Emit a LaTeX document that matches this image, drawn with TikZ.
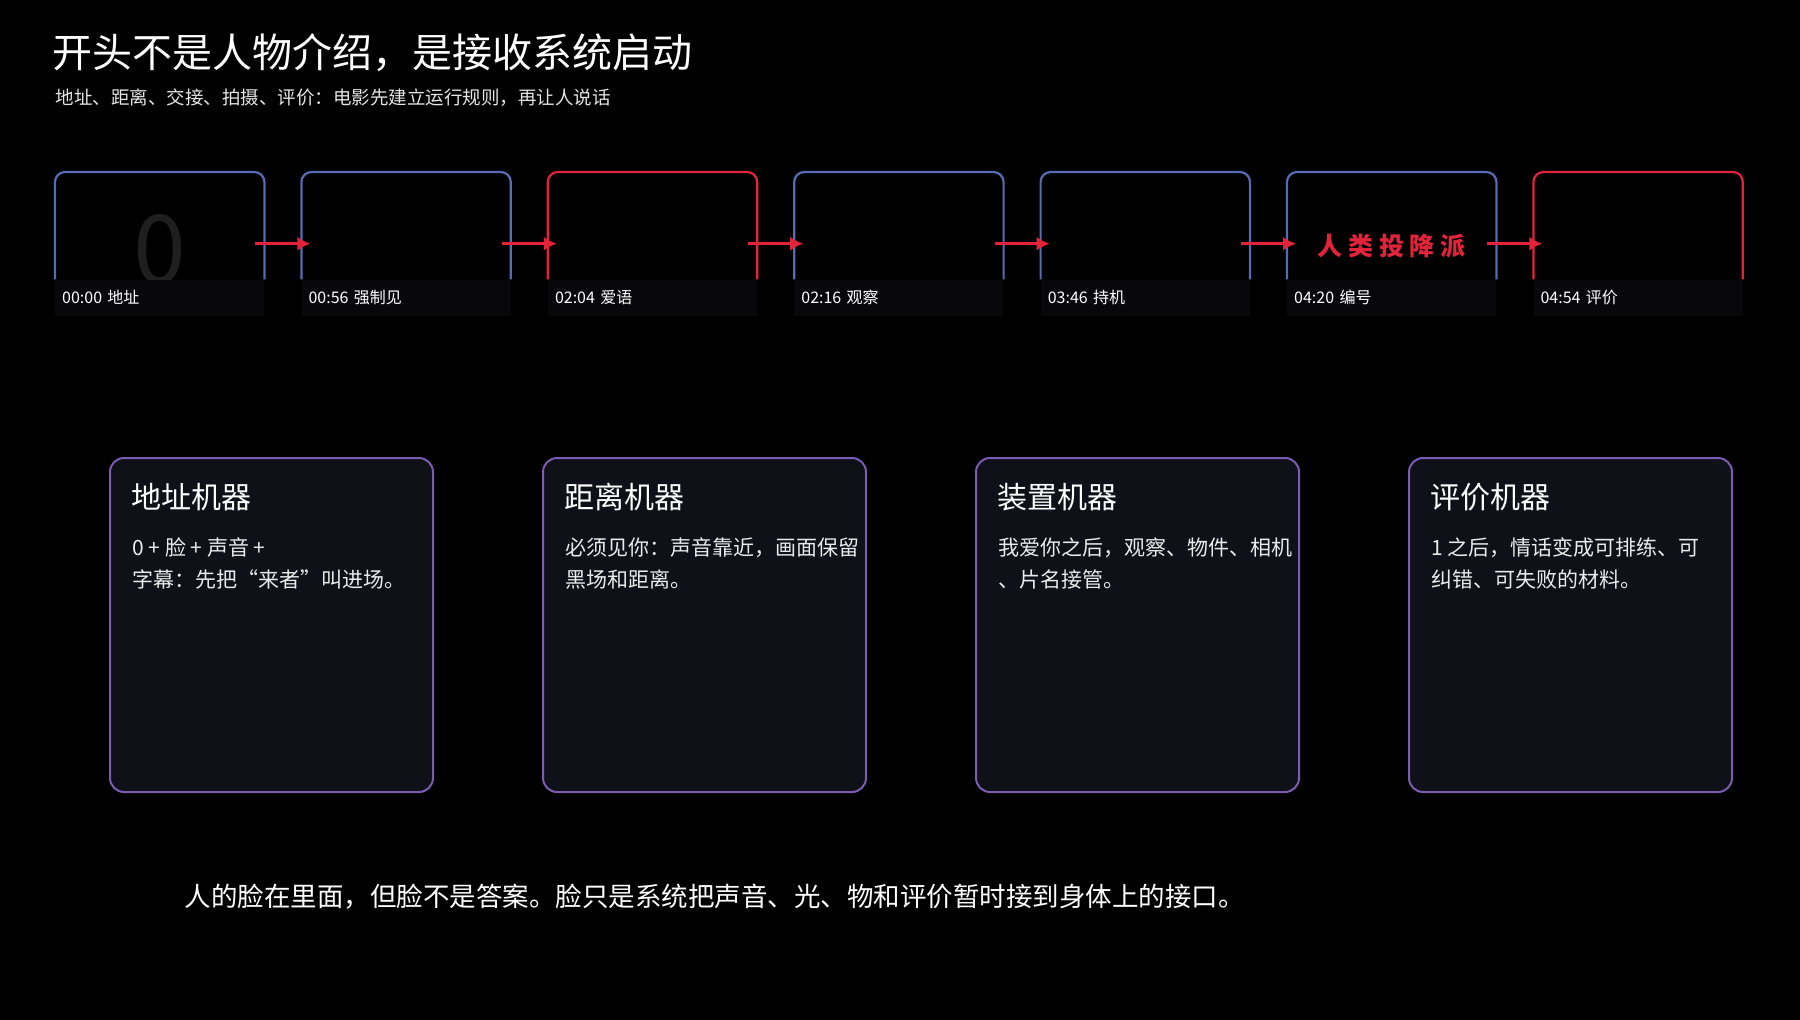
\documentclass[tikz,border=0pt]{standalone}
\usepackage{fontspec}
\setmainfont{Noto Sans CJK SC}
\usetikzlibrary{positioning, calc, arrows.meta}
\definecolor{fblue}{RGB}{88,108,180}
\definecolor{fred}{RGB}{226,36,58}
\definecolor{cpurple}{RGB}{122,92,176}
\definecolor{cfill}{RGB}{15,16,24}
\definecolor{strip}{RGB}{8,8,10}
\tikzstyle{Thumb} = [
inner sep=0pt,
minimum width=209pt,
minimum height=107pt,
fill=black]
\tikzstyle{Cap} = [
inner sep=0pt,
minimum width=209pt,
minimum height=36pt,
fill=strip,
text=white,
font=\fontsize{16}{16}\selectfont,
text width=195pt]
\tikzstyle{FrameBlue} = [line width=2.2pt, fblue, rounded corners=10pt]
\tikzstyle{FrameRed} = [line width=2.2pt, fred, rounded corners=10pt]
\tikzstyle{Step} = [
line width=3pt,
fred,
-{Latex[length=13pt,width=14pt]},
shorten <=-9pt, shorten >=-9pt,
transform canvas={yshift=-18pt}]
\tikzstyle{Card} = [
draw=cpurple, line width=2pt, fill=cfill,
rounded corners=14pt,
minimum width=323pt, minimum height=334pt,
inner sep=0pt]
\tikzstyle{CardHead} = [anchor=base west, text=white,
font=\fontsize{30}{30}\selectfont]
\tikzstyle{CardBody} = [anchor=base west, text=white!92!black,
font=\fontsize{21}{32}\selectfont, align=left]

\begin{document}
\begin{tikzpicture}[x=1pt, y=-1pt]
    \useasboundingbox[fill=black] (0,0) rectangle (1800,1020);

    % title
    \node [anchor=base west, text=white, font=\fontsize{40}{40}\selectfont]
        (title) at (49,67) {开头不是人物介绍，是接收系统启动};
    \node [anchor=base west, text=white!90!black, font=\fontsize{18.5}{18.5}\selectfont]
        (sub) at (52,104) {地址、距离、交接、拍摄、评价：电影先建立运行规则，再让人说话};

    % thumbnails
    \node [Thumb, anchor=north west] (t1) at (55,172) {};
    \node [Thumb, right=37pt of t1] (t2) {};
    \node [Thumb, right=37pt of t2] (t3) {};
    \node [Thumb, right=37pt of t3] (t4) {};
    \node [Thumb, right=37pt of t4] (t5) {};
    \node [Thumb, right=37pt of t5] (t6) {};
    \node [Thumb, right=37pt of t6] (t7) {};
    \node [text=white!12!black, font=\fontsize{95}{95}\selectfont] at ($(t1)+(0,24)$) (t1txt) {0};
    \node [text=fred, font=\bfseries\fontsize{25}{25}\selectfont] at ($(t6)+(0,20)$) (t6txt) {人 类 投 降 派};

    \node [Cap, below=0pt of t1] (c1) {00:00 地址};
    \node [Cap, below=0pt of t2] (c2) {00:56 强制见};
    \node [Cap, below=0pt of t3] (c3) {02:04 爱语};
    \node [Cap, below=0pt of t4] (c4) {02:16 观察};
    \node [Cap, below=0pt of t5] (c5) {03:46 持机};
    \node [Cap, below=0pt of t6] (c6) {04:20 编号};
    \node [Cap, below=0pt of t7] (c7) {04:54 评价};

    \draw[FrameBlue] (t1.south west) |- (t1.north) -| (t1.south east);
    \draw[FrameBlue] (t2.south west) |- (t2.north) -| (t2.south east);
    \draw[FrameRed] (t3.south west) |- (t3.north) -| (t3.south east);
    \draw[FrameBlue] (t4.south west) |- (t4.north) -| (t4.south east);
    \draw[FrameBlue] (t5.south west) |- (t5.north) -| (t5.south east);
    \draw[FrameBlue] (t6.south west) |- (t6.north) -| (t6.south east);
    \draw[FrameRed] (t7.south west) |- (t7.north) -| (t7.south east);

    \draw[Step] (t1.east) -- (t2.west);
    \draw[Step] (t2.east) -- (t3.west);
    \draw[Step] (t3.east) -- (t4.west);
    \draw[Step] (t4.east) -- (t5.west);
    \draw[Step] (t5.east) -- (t6.west);
    \draw[Step] (t6.east) -- (t7.west);

    % cards
    \node [Card, anchor=north west] (k1) at (109,457) {};
    \node [Card, right=108pt of k1] (k2) {};
    \node [Card, right=108pt of k2] (k3) {};
    \node [Card, right=108pt of k3] (k4) {};

    \node [CardHead] at ($(k1.north west)+(19,51)$) (h1) {地址机器};
    \node [CardHead] at ($(k2.north west)+(19,51)$) (h2) {距离机器};
    \node [CardHead] at ($(k3.north west)+(19,51)$) (h3) {装置机器};
    \node [CardHead] at ($(k4.north west)+(19,51)$) (h4) {评价机器};

    \node [CardBody] at ($(k1.north west)+(20,130)$) (b1) {0 + 脸 + 声音 +\\字幕：先把“来者”叫进场。};
    \node [CardBody] at ($(k2.north west)+(20,130)$) (b2) {必须见你：声音靠近，画面保留\\黑场和距离。};
    \node [CardBody] at ($(k3.north west)+(20,130)$) (b3) {我爱你之后，观察、物件、相机\\、片名接管。};
    \node [CardBody] at ($(k4.north west)+(20,130)$) (b4) {1 之后，情话变成可排练、可\\纠错、可失败的材料。};

    % closing line
    \node [anchor=base west, text=white, font=\fontsize{26.5}{26.5}\selectfont]
        (end) at (181,906) {人的脸在里面，但脸不是答案。脸只是系统把声音、光、物和评价暂时接到身体上的接口。};
\end{tikzpicture}
\end{document}
